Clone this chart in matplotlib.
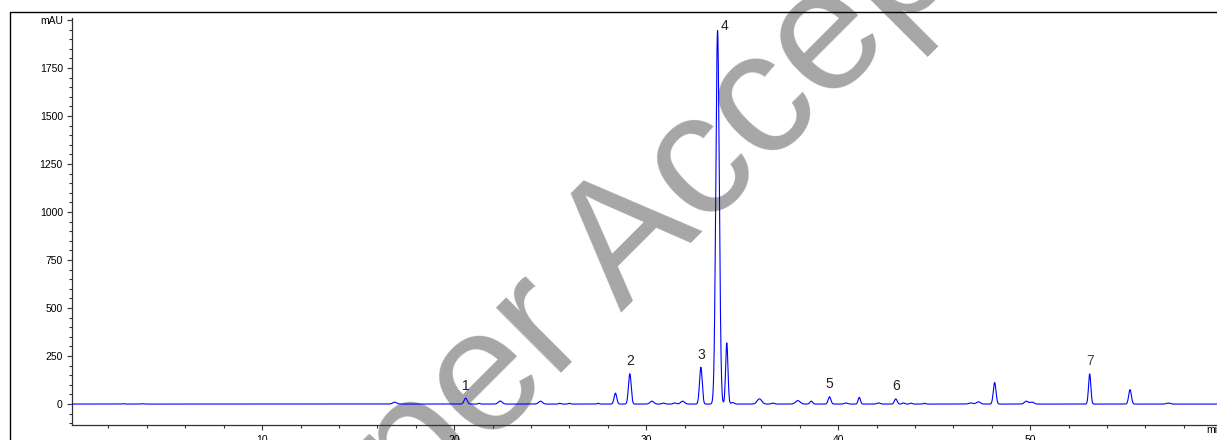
import matplotlib
matplotlib.use('Agg')
import matplotlib.pyplot as plt
import numpy as np
from matplotlib.ticker import MultipleLocator, FixedLocator, FixedFormatter

plt.rcParams['font.family'] = ['Liberation Sans', 'DejaVu Sans']

# peaks: retention time (min), height (mAU), sigma (min)
peak_rt = [2.8, 3.8, 16.9, 20.6, 21.3, 22.4, 24.5, 25.5, 26.0, 27.5, 28.4, 29.15,
           30.3, 30.9, 31.5, 31.9, 32.85, 33.72, 34.2, 34.5, 35.9, 36.6, 37.9,
           38.6, 39.55, 40.4, 41.1, 42.1, 43.0, 43.4, 43.8, 44.5, 46.9, 47.3,
           48.15, 49.8, 50.1, 53.1, 55.2, 57.2]
peak_height = [2, 2, 10, 31, 4, 16, 15, 4, 4, 4, 57, 158,
               15, 5, 6, 15, 192, 1945, 318, 8, 27, 5, 18,
               15, 38, 6, 35, 6, 27, 6, 5, 4, 6, 12,
               112, 15, 10, 157, 75, 5]
peak_sigma = [0.05, 0.05, 0.1, 0.08, 0.05, 0.1, 0.1, 0.05, 0.05, 0.05, 0.07, 0.07,
              0.1, 0.08, 0.08, 0.1, 0.07, 0.09, 0.06, 0.08, 0.12, 0.08, 0.12,
              0.07, 0.07, 0.08, 0.06, 0.08, 0.07, 0.06, 0.06, 0.06, 0.1, 0.1,
              0.07, 0.1, 0.1, 0.06, 0.07, 0.1]

# numbered peaks
label_text = ['1', '2', '3', '4', '5', '6', '7']
label_rt = [20.6, 29.15, 32.85, 33.72, 39.55, 43.0, 53.1]

t = np.arange(0.0, 60.0, 0.01)
signal = np.zeros_like(t)
for rt, h, s in zip(peak_rt, peak_height, peak_sigma):
    signal += h * np.exp(-(t - rt) ** 2 / (2 * s ** 2))

fig = plt.figure(figsize=(12.17, 4.4), dpi=100)
ax = fig.add_axes([72 / 1217, 1 - 425 / 440, 1 - 72 / 1217, (425 - 18) / 440])

# outer frame (left + top)
fig.add_artist(plt.Line2D([10 / 1217, 10 / 1217, 1.0], [0.0, 1 - 12 / 440, 1 - 12 / 440],
                          transform=fig.transFigure, color='black', lw=1.0))

# watermark
fig.text(267 / 1217, 1 - 668 / 440, 'Paper Accepted', fontsize=125,
         color='#a6a6a6', rotation=45, rotation_mode='anchor', ha='left', va='baseline',
         zorder=-1)

ax.plot(t, signal, color='#0000ff', lw=0.8, zorder=3)
ax.set_facecolor('none')

for txt, rt in zip(label_text, label_rt):
    idx = np.argmin(np.abs(t - rt))
    if txt == '4':
        ax.annotate(txt, (rt, signal[idx]), xytext=(2, -2), textcoords='offset points',
                    ha='left', va='bottom', fontsize=10, color='#222222')
    else:
        ax.annotate(txt, (rt, signal[idx]), xytext=(0, 4), textcoords='offset points',
                    ha='center', va='bottom', fontsize=10,
                    color='#5b4636' if txt == '7' else '#222222')

ax.set_xlim(0.1, 59.73)
ax.set_ylim(-109, 2010)

ax.xaxis.set_major_locator(MultipleLocator(10))
ax.xaxis.set_minor_locator(MultipleLocator(2))
yt = [0, 250, 500, 750, 1000, 1250, 1500, 1750, 2000]
ax.yaxis.set_major_locator(FixedLocator(yt))
ax.yaxis.set_major_formatter(FixedFormatter([str(v) for v in yt[:-1]] + ['mAU']))
ax.yaxis.set_minor_locator(MultipleLocator(50))

ax.tick_params(axis='both', which='major', length=3.6, width=0.8, labelsize=7.5, color='#333333')
ax.tick_params(axis='both', which='minor', length=2.2, width=0.8, color='#333333')
ax.tick_params(axis='x', pad=3.3)
ax.tick_params(axis='y', pad=3)

for s in ['top', 'right']:
    ax.spines[s].set_visible(False)
for s in ['left', 'bottom']:
    ax.spines[s].set_linewidth(0.9)
    ax.spines[s].set_color('#333333')

# unit label at the end of the time axis (cut by the figure edge, as in the original)
ax.text(59.17, -0.0, 'min', transform=ax.get_xaxis_transform(), fontsize=7.5,
        ha='left', va='top', clip_on=False)

fig.savefig('out.png', dpi=100)
